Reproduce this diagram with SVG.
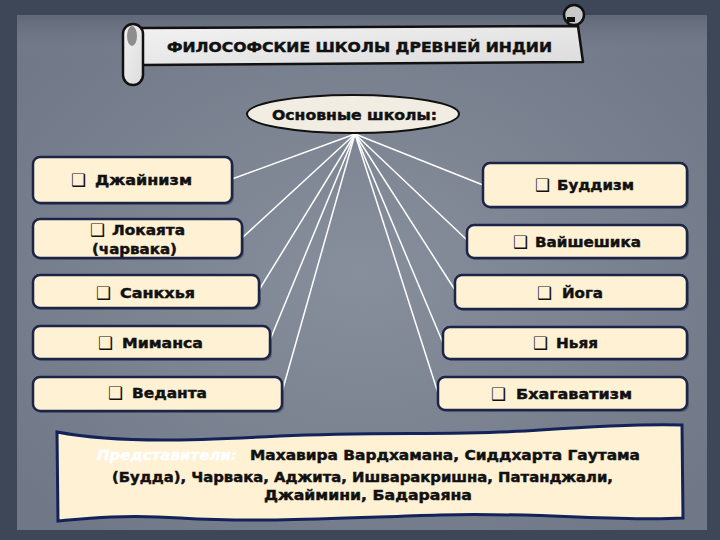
<svg xmlns="http://www.w3.org/2000/svg" width="720" height="540" viewBox="0 0 720 540">
<defs>
<style>
.box{fill:#fff1d4;stroke:#1c2447;stroke-width:2.5}
.shd{fill:#3a4152;opacity:0.45}
.lbl{font-family:"DejaVu Sans","Liberation Sans",sans-serif;font-weight:bold;font-size:14px;fill:#111;stroke:#111;stroke-width:0.45}
.bul{font-family:"DejaVu Sans",sans-serif;font-size:17px;fill:#111}
.conn line{stroke:#ffffff;stroke-width:1.5}
</style>
<radialGradient id="bg" cx="50%" cy="50%" r="65%">
<stop offset="0" stop-color="#878e9c"/>
<stop offset="1" stop-color="#707786"/>
</radialGradient>
<linearGradient id="top" x1="0" y1="0" x2="0" y2="1">
<stop offset="0" stop-color="#5f6877"/>
<stop offset="1" stop-color="#7d8493" stop-opacity="0"/>
</linearGradient>
<linearGradient id="paper" x1="0" y1="0" x2="1" y2="1">
<stop offset="0" stop-color="#f2f2f2"/>
<stop offset="1" stop-color="#dcdcdc"/>
</linearGradient>
</defs>
<rect x="0" y="0" width="720" height="540" fill="#3d4757"/>
<rect x="17" y="15" width="690" height="515" fill="url(#bg)"/>
<rect x="17" y="15" width="690" height="45" fill="url(#top)"/>

<g id="title">
<path d="M140,28 L578,26 L583,62 L140,65 Z" fill="url(#paper)" stroke="#111" stroke-width="2.5" stroke-linejoin="round"/>
<rect x="123" y="24" width="20" height="61" rx="10" fill="url(#paper)" stroke="#111" stroke-width="2.5"/>
<ellipse cx="132" cy="36" rx="5" ry="10" fill="#8d8d8d"/>
<circle cx="574" cy="15" r="10" fill="#c9c9c9" stroke="#111" stroke-width="2.5"/>
<rect x="567" y="17" width="8" height="5" fill="#111"/>
<text x="167" y="52" class="lbl" font-size="16" textLength="385" lengthAdjust="spacingAndGlyphs">ФИЛОСОФСКИЕ ШКОЛЫ ДРЕВНЕЙ ИНДИИ</text>
</g>

<g class="conn">
<line x1="355" y1="134" x2="232" y2="179"/>
<line x1="355" y1="134" x2="242" y2="238"/>
<line x1="355" y1="134" x2="259" y2="290"/>
<line x1="355" y1="134" x2="270" y2="340"/>
<line x1="355" y1="134" x2="282" y2="392"/>
<line x1="355" y1="134" x2="483" y2="185"/>
<line x1="355" y1="134" x2="467" y2="240"/>
<line x1="355" y1="134" x2="455" y2="290"/>
<line x1="355" y1="134" x2="443" y2="343"/>
<line x1="355" y1="134" x2="438" y2="393"/>
</g>

<g id="root">
<ellipse cx="353" cy="114" rx="106" ry="19" fill="#f1ede2" stroke="#111" stroke-width="2"/>
<text x="272" y="120" class="lbl" textLength="165" lengthAdjust="spacingAndGlyphs">Основные школы:</text>
</g>

<g id="jain">
<rect x="35" y="159" width="199" height="46" rx="7" class="shd"/>
<rect x="33" y="157" width="199" height="46" rx="7" class="box"/>
<text x="71" y="186" class="bul">❑</text>
<text x="95" y="185" class="lbl" textLength="97" lengthAdjust="spacingAndGlyphs">Джайнизм</text>
</g>
<g id="lokayata">
<rect x="35" y="221" width="209" height="39" rx="7" class="shd"/>
<rect x="33" y="219" width="209" height="39" rx="7" class="box"/>
<text x="90" y="236" class="bul">❑</text>
<text x="112" y="235" class="lbl" textLength="73" lengthAdjust="spacingAndGlyphs">Локаята</text>
<text x="92" y="254" class="lbl" textLength="85" lengthAdjust="spacingAndGlyphs">(чарвака)</text>
</g>
<g id="sankhya">
<rect x="35" y="277" width="226" height="33" rx="7" class="shd"/>
<rect x="33" y="275" width="226" height="33" rx="7" class="box"/>
<text x="96" y="299" class="bul">❑</text>
<text x="120" y="298" class="lbl" textLength="75" lengthAdjust="spacingAndGlyphs">Санкхья</text>
</g>
<g id="mimansa">
<rect x="35" y="328" width="237" height="33" rx="7" class="shd"/>
<rect x="33" y="326" width="237" height="33" rx="7" class="box"/>
<text x="98" y="349" class="bul">❑</text>
<text x="122" y="348" class="lbl" textLength="81" lengthAdjust="spacingAndGlyphs">Миманса</text>
</g>
<g id="vedanta">
<rect x="35" y="379" width="249" height="34" rx="7" class="shd"/>
<rect x="33" y="377" width="249" height="34" rx="7" class="box"/>
<text x="108" y="399" class="bul">❑</text>
<text x="132" y="398" class="lbl" textLength="75" lengthAdjust="spacingAndGlyphs">Веданта</text>
</g>

<g id="buddhism">
<rect x="485" y="165" width="204" height="44" rx="7" class="shd"/>
<rect x="483" y="163" width="204" height="44" rx="7" class="box"/>
<text x="535" y="191" class="bul">❑</text>
<text x="557" y="190" class="lbl" textLength="77" lengthAdjust="spacingAndGlyphs">Буддизм</text>
</g>
<g id="vaisheshika">
<rect x="469" y="227" width="220" height="33" rx="7" class="shd"/>
<rect x="467" y="225" width="220" height="33" rx="7" class="box"/>
<text x="513" y="248" class="bul">❑</text>
<text x="535" y="247" class="lbl" textLength="106" lengthAdjust="spacingAndGlyphs">Вайшешика</text>
</g>
<g id="yoga">
<rect x="457" y="277" width="232" height="34" rx="7" class="shd"/>
<rect x="455" y="275" width="232" height="34" rx="7" class="box"/>
<text x="537" y="299" class="bul">❑</text>
<text x="562" y="298" class="lbl" textLength="41" lengthAdjust="spacingAndGlyphs">Йога</text>
</g>
<g id="nyaya">
<rect x="445" y="329" width="244" height="32" rx="7" class="shd"/>
<rect x="443" y="327" width="244" height="32" rx="7" class="box"/>
<text x="533" y="349" class="bul">❑</text>
<text x="556" y="348" class="lbl" textLength="42" lengthAdjust="spacingAndGlyphs">Ньяя</text>
</g>
<g id="bhagavatism">
<rect x="440" y="379" width="249" height="33" rx="7" class="shd"/>
<rect x="438" y="377" width="249" height="33" rx="7" class="box"/>
<text x="491" y="400" class="bul">❑</text>
<text x="516" y="399" class="lbl" textLength="116" lengthAdjust="spacingAndGlyphs">Бхагаватизм</text>
</g>

<g id="representatives">
<path d="M57,432 C120,444 200,440 280,436 C380,431 460,436 540,430 C600,426 650,424 682,425 L683,518 C620,522 540,512 440,515 C340,518 260,523 180,518 C120,514 80,519 58,521 Z" fill="#fff1d4" stroke="#13235a" stroke-width="3"/>
<text x="97" y="460" class="lbl" font-style="italic" style="fill:#ffffff;stroke:#ffffff" textLength="140" lengthAdjust="spacingAndGlyphs">Представители:</text>
<text x="250" y="460" class="lbl" textLength="390" lengthAdjust="spacingAndGlyphs">Махавира Вардхамана, Сиддхарта Гаутама</text>
<text x="112" y="482" class="lbl" textLength="501" lengthAdjust="spacingAndGlyphs">(Будда), Чарвака, Аджита, Ишваракришна, Патанджали,</text>
<text x="264" y="500" class="lbl" textLength="208" lengthAdjust="spacingAndGlyphs">Джаймини, Бадараяна</text>
</g>
</svg>
